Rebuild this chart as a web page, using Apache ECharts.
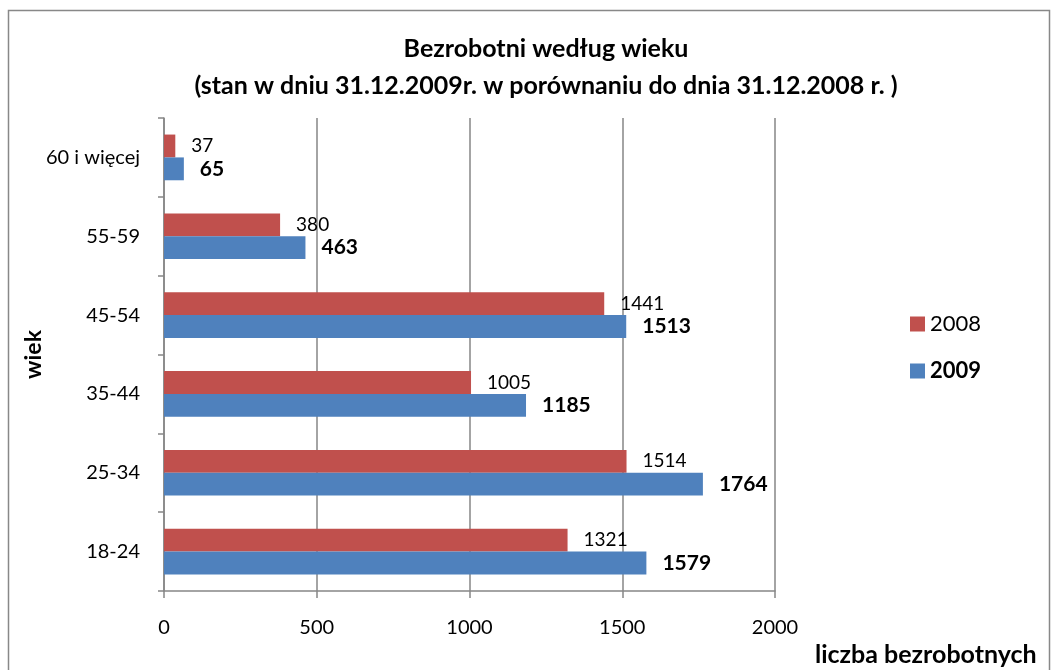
<!DOCTYPE html>
<html lang="pl">
<head>
	<meta charset="UTF-8">
	<title>Bezrobotni według wieku</title>
	<style>
		body { margin: 0; background: #fff; }
	</style>
</head>
<body>
	<div id="main" style="width: 1057px;height: 670px"></div>
	<script src="https://cdn.jsdelivr.net/npm/echarts@6/dist/echarts.min.js"></script>
	<script>
		var groups = ['18-24', '25-34', '35-44', '45-54', '55-59', '60 i więcej']
		var data2008 = [1321, 1514, 1005, 1441, 380, 37]
		var data2009 = [1579, 1764, 1185, 1513, 463, 65]
		var xTicks = [0, 500, 1000, 1500, 2000]

		var font = 'Lato, "Open Sans", sans-serif'
		var gridColor = '#868686'

		var myChart = echarts.init(document.getElementById('main'));
		var option = {
			backgroundColor: '#fff',
			textStyle: { fontFamily: font, color: '#000' },
			title: {
				text: 'Bezrobotni według wieku\n(stan w dniu 31.12.2009r. w porównaniu do dnia 31.12.2008 r. )',
				left: 541,
				textAlign: 'center',
				top: 25,
				textStyle: {
					fontFamily: font,
					fontSize: 25,
					fontWeight: 'bold',
					lineHeight: 37,
					color: '#000'
				}
			},
			legend: {
				data: ['2008', '2009'],
				orient: 'vertical',
				left: 905,
				top: 308,
				itemWidth: 15,
				itemHeight: 15,
				itemGap: 25,
				icon: 'rect',
				selectedMode: false,
				formatter: function (name) {
					return name === '2009' ? '{b|' + name + '}' : '{n|' + name + '}'
				},
				textStyle: {
					rich: {
						n: { fontFamily: font, fontSize: 22, color: '#000' },
						b: { fontFamily: font, fontSize: 22, fontWeight: 'bold', color: '#000' }
					}
				}
			},
			grid: {
				left: 164,
				right: 282,
				top: 118,
				bottom: 79
			},
			xAxis: {
				type: 'value',
				min: xTicks[0],
				max: xTicks[xTicks.length - 1],
				interval: xTicks[1] - xTicks[0],
				axisLine: { show: true, lineStyle: { color: gridColor, width: 1.5 } },
				axisTick: { show: true, length: 7, lineStyle: { color: gridColor, width: 1.5 } },
				splitLine: { show: true, lineStyle: { color: gridColor, width: 1.5 } },
				axisLabel: {
					fontSize: 20, color: '#000', margin: 27, fontFamily: font,
					formatter: function (v) { return String(v) }
				}
			},
			yAxis: {
				type: 'category',
				data: groups,
				name: 'wiek',
				nameLocation: 'middle',
				nameRotate: 90,
				nameGap: 119,
				nameMoveOverlap: false,
				nameTextStyle: { fontSize: 23, fontWeight: 'bold', color: '#000', fontFamily: font },
				axisLine: { show: true, lineStyle: { color: gridColor, width: 1.5 } },
				axisTick: { show: true, length: 6, lineStyle: { color: gridColor, width: 1.5 } },
				axisLabel: { fontSize: 20, color: '#000', margin: 24, fontFamily: font }
			},
			series: [{
				name: '2008',
				type: 'bar',
				data: data2008,
				barGap: '0%',
				barCategoryGap: '42%',
				itemStyle: { color: '#C0504D' },
				label: {
					show: true,
					position: 'right',
					distance: 16,
					fontSize: 19,
					color: '#000',
					fontFamily: font
				}
			}, {
				name: '2009',
				type: 'bar',
				data: data2009,
				itemStyle: { color: '#4F81BD' },
				label: {
					show: true,
					position: 'right',
					distance: 16,
					fontSize: 21,
					fontWeight: 'bold',
					color: '#000',
					fontFamily: font
				}
			}],
			graphic: [{
				type: 'rect',
				shape: { x: 8.5, y: 10.5, width: 1041, height: 700 },
				style: { fill: null, stroke: '#888', lineWidth: 1.5 },
				silent: true
			}, {
				type: 'text',
				left: 815,
				top: 642,
				style: {
					text: 'liczba bezrobotnych',
					font: 'bold 25px ' + font,
					fill: '#000'
				}
			}]
		};
		myChart.setOption(option);
	</script>
</body>
</html>
